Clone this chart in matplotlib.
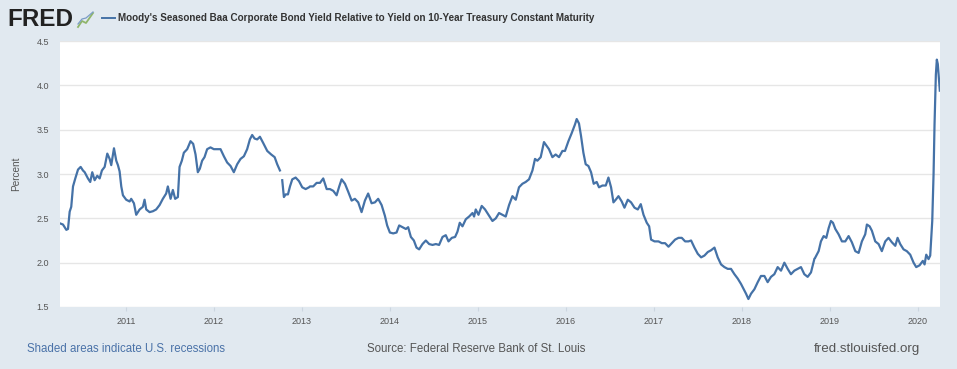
import matplotlib
matplotlib.use("Agg")
import matplotlib.pyplot as plt
from matplotlib.lines import Line2D
import numpy as np
from datetime import datetime, timedelta

plt.rcParams['font.family'] = ['Liberation Sans', 'DejaVu Sans']

NAN = float('nan')  # breaks in the published series

# decimal-year time stamps
t_year = [
    2010.258, 2010.284, 2010.322, 2010.341, 2010.36, 2010.378, 2010.398, 2010.424, 2010.455, 2010.485,
    2010.511, 2010.531, 2010.568, 2010.594, 2010.617, 2010.644, 2010.674, 2010.701, 2010.727, 2010.758,
    2010.788, 2010.815, 2010.833, 2010.864, 2010.89, 2010.909, 2010.928, 2010.947, 2010.966, 2011.003,
    2011.042, 2011.06, 2011.091, 2011.117, 2011.156, 2011.193, 2011.212, 2011.231, 2011.269, 2011.307,
    2011.344, 2011.383, 2011.42, 2011.458, 2011.477, 2011.508, 2011.534, 2011.56, 2011.591, 2011.61,
    2011.636, 2011.659, 2011.697, 2011.735, 2011.765, 2011.792, 2011.818, 2011.841, 2011.867, 2011.894,
    2011.924, 2011.962, 2012.0, 2012.038, 2012.076, 2012.114, 2012.151, 2012.19, 2012.227, 2012.265,
    2012.303, 2012.341, 2012.378, 2012.409, 2012.435, 2012.462, 2012.492, 2012.523, 2012.56, 2012.606,
    2012.651, 2012.69, 2012.719, 2012.75, 2012.77, 2012.776, 2012.795, 2012.815, 2012.841, 2012.864, 2012.89,
    2012.928, 2012.966, 2013.003, 2013.042, 2013.08, 2013.091, 2013.128, 2013.167, 2013.205, 2013.242,
    2013.281, 2013.318, 2013.356, 2013.394, 2013.424, 2013.451, 2013.489, 2013.526, 2013.565, 2013.602,
    2013.64, 2013.678, 2013.716, 2013.753, 2013.792, 2013.83, 2013.867, 2013.906, 2013.943, 2013.969,
    2014.0, 2014.038, 2014.076, 2014.106, 2014.144, 2014.182, 2014.208, 2014.239, 2014.273, 2014.303,
    2014.333, 2014.371, 2014.409, 2014.447, 2014.485, 2014.523, 2014.56, 2014.599, 2014.636, 2014.667,
    2014.705, 2014.742, 2014.769, 2014.795, 2014.826, 2014.864, 2014.901, 2014.94, 2014.958, 2014.977,
    2015.008, 2015.045, 2015.083, 2015.122, 2015.167, 2015.205, 2015.242, 2015.281, 2015.318, 2015.356,
    2015.394, 2015.432, 2015.469, 2015.508, 2015.545, 2015.583, 2015.622, 2015.651, 2015.678, 2015.716,
    2015.753, 2015.781, 2015.81, 2015.849, 2015.886, 2015.924, 2015.963, 2015.992, 2016.031, 2016.068,
    2016.106, 2016.125, 2016.151, 2016.174, 2016.201, 2016.227, 2016.258, 2016.288, 2016.318, 2016.352,
    2016.378, 2016.417, 2016.455, 2016.485, 2016.515, 2016.542, 2016.568, 2016.599, 2016.636, 2016.667,
    2016.705, 2016.742, 2016.781, 2016.818, 2016.852, 2016.883, 2016.92, 2016.947, 2016.969, 2017.008,
    2017.053, 2017.091, 2017.128, 2017.167, 2017.205, 2017.242, 2017.281, 2017.318, 2017.356, 2017.394,
    2017.424, 2017.462, 2017.5, 2017.538, 2017.576, 2017.614, 2017.651, 2017.69, 2017.727, 2017.765,
    2017.803, 2017.841, 2017.878, 2017.917, 2017.955, 2017.992, 2018.023, 2018.049, 2018.076, 2018.106,
    2018.144, 2018.182, 2018.219, 2018.258, 2018.295, 2018.333, 2018.371, 2018.409, 2018.447, 2018.485,
    2018.523, 2018.56, 2018.599, 2018.636, 2018.674, 2018.712, 2018.75, 2018.788, 2018.826, 2018.832, 2018.838,
    2018.875, 2018.901, 2018.932, 2018.962, 2018.989, 2019.015, 2019.038, 2019.065, 2019.102, 2019.14,
    2019.178, 2019.216, 2019.253, 2019.292, 2019.33, 2019.367, 2019.405, 2019.424, 2019.455, 2019.481,
    2019.519, 2019.557, 2019.594, 2019.633, 2019.67, 2019.708, 2019.747, 2019.773, 2019.803, 2019.841,
    2019.878, 2019.917, 2019.955, 2019.985, 2020.023, 2020.06, 2020.08, 2020.099, 2020.125, 2020.144,
    2020.167, 2020.182, 2020.193, 2020.208, 2020.219, 2020.23, 2020.242, 2020.253,
]

# Baa - 10Y spread, percent
spread = [
    2.44, 2.43, 2.37, 2.38, 2.575, 2.63, 2.86, 2.95, 3.05, 3.08,
    3.04, 3.02, 2.95, 2.91, 3.02, 2.93, 2.98, 2.95, 3.04, 3.08,
    3.23, 3.17, 3.10, 3.29, 3.15, 3.10, 3.03, 2.86, 2.76, 2.71,
    2.69, 2.72, 2.67, 2.54, 2.60, 2.63, 2.71, 2.60, 2.57, 2.58,
    2.60, 2.65, 2.72, 2.78, 2.86, 2.72, 2.82, 2.72, 2.74, 3.08,
    3.15, 3.24, 3.28, 3.37, 3.34, 3.22, 3.02, 3.06, 3.15, 3.19,
    3.28, 3.30, 3.28, 3.28, 3.28, 3.20, 3.13, 3.09, 3.02, 3.11,
    3.17, 3.20, 3.28, 3.39, 3.44, 3.40, 3.39, 3.42, 3.35, 3.26,
    3.22, 3.19, 3.11, 3.04, NAN, 2.93, 2.74, 2.77, 2.77, 2.86, 2.94,
    2.96, 2.92, 2.85, 2.83, 2.85, 2.86, 2.86, 2.90, 2.90, 2.95,
    2.83, 2.83, 2.81, 2.76, 2.86, 2.94, 2.89, 2.80, 2.70, 2.72,
    2.68, 2.57, 2.70, 2.78, 2.67, 2.68, 2.72, 2.65, 2.53, 2.42,
    2.34, 2.33, 2.34, 2.42, 2.40, 2.38, 2.40, 2.29, 2.25, 2.17,
    2.15, 2.21, 2.25, 2.21, 2.20, 2.21, 2.20, 2.29, 2.31, 2.24,
    2.28, 2.29, 2.35, 2.45, 2.41, 2.49, 2.52, 2.56, 2.52, 2.60,
    2.54, 2.64, 2.60, 2.54, 2.47, 2.50, 2.56, 2.54, 2.52, 2.65,
    2.75, 2.71, 2.85, 2.89, 2.91, 2.94, 3.04, 3.17, 3.15, 3.19,
    3.36, 3.32, 3.28, 3.19, 3.22, 3.19, 3.26, 3.26, 3.37, 3.46,
    3.56, 3.62, 3.57, 3.43, 3.24, 3.11, 3.09, 3.02, 2.89, 2.91,
    2.85, 2.87, 2.87, 2.96, 2.85, 2.68, 2.71, 2.75, 2.69, 2.62,
    2.71, 2.68, 2.62, 2.60, 2.66, 2.54, 2.45, 2.41, 2.26, 2.24,
    2.24, 2.22, 2.22, 2.18, 2.22, 2.26, 2.28, 2.28, 2.24, 2.24,
    2.25, 2.17, 2.10, 2.06, 2.08, 2.12, 2.14, 2.17, 2.06, 1.98,
    1.95, 1.93, 1.93, 1.87, 1.82, 1.76, 1.70, 1.65, 1.59, 1.65,
    1.70, 1.78, 1.85, 1.85, 1.78, 1.84, 1.87, 1.95, 1.91, 2.00,
    1.93, 1.87, 1.91, 1.93, 1.95, 1.87, 1.84, 1.89, 2.04, NAN, 2.06,
    2.13, 2.24, 2.30, 2.28, 2.39, 2.47, 2.45, 2.38, 2.32, 2.24,
    2.24, 2.30, 2.23, 2.13, 2.11, 2.24, 2.32, 2.43, 2.41, 2.36,
    2.24, 2.21, 2.13, 2.24, 2.28, 2.23, 2.19, 2.28, 2.21, 2.15,
    2.13, 2.09, 2.00, 1.95, 1.97, 2.02, 1.98, 2.09, 2.04, 2.08,
    2.47, 3.00, 3.56, 4.12, 4.29, 4.24, 4.09, 3.94,
]

year_ticks = [2011, 2012, 2013, 2014, 2015, 2016, 2017, 2018, 2019, 2020]
y_ticks = [1.5, 2.0, 2.5, 3.0, 3.5, 4.0, 4.5]

title = "Moody's Seasoned Baa Corporate Bond Yield Relative to Yield on 10-Year Treasury Constant Maturity"


def to_date(y):
    yi = int(np.floor(y))
    start = datetime(yi, 1, 1)
    days = (datetime(yi + 1, 1, 1) - start).days
    return start + timedelta(days=(y - yi) * days)


dates = [to_date(y) for y in t_year]

BG = '#e1e9f0'
W, H = 957, 369
fig = plt.figure(figsize=(W / 100, H / 100), dpi=100, facecolor=BG)
ax = fig.add_axes([60 / W, 1 - 307 / H, 880 / W, 266 / H])
ax.set_facecolor('white')

ax.plot(dates, spread, color='#4572a7', lw=1.6, solid_joinstyle='round')

ax.set_ylim(1.5, 4.5)
ax.set_xlim(to_date(2010.25), to_date(2020.255))
ax.set_yticks(y_ticks)
ax.set_yticklabels([f"{v:.1f}" for v in y_ticks])
ax.set_xticks([datetime(y, 1, 1) for y in year_ticks])
ax.set_xticklabels([str(y) for y in year_ticks])
ax.grid(axis='y', color='#e6e6e6', lw=1)
ax.set_axisbelow(True)
for s in ax.spines.values():
    s.set_visible(False)
ax.tick_params(axis='y', length=0, labelsize=6.5, labelcolor='#555555', pad=8)
ax.tick_params(axis='x', length=3, color='#ccd6e0', labelsize=6.5, labelcolor='#555555', pad=4)
ax.set_ylabel('Percent', fontsize=7.2, color='#555555', labelpad=11)

# header
fig.text(7 / W, 1 - 20 / H, 'FRED', fontsize=17.5, fontweight='bold', color='#222222',
         va='center', ha='left')
# small logo icon
fig.add_artist(Line2D(np.array([78, 82, 86, 93]) / W, 1 - np.array([27, 21, 23, 13]) / H,
                      color='#8fb56a', lw=1.3))
fig.add_artist(Line2D(np.array([78, 82, 86, 93]) / W, 1 - np.array([24, 19, 18, 12]) / H,
                      color='#7a9cc6', lw=0.9))
fig.add_artist(Line2D([102 / W, 115 / W], [1 - 18 / H, 1 - 18 / H], color='#4572a7', lw=1.4))
fig.text(118 / W, 1 - 18 / H, title, fontsize=7.1, fontweight='bold', color='#333333',
         va='center', ha='left')

# footer
fig.text(27 / W, 1 - 349 / H, 'Shaded areas indicate U.S. recessions', fontsize=8.3,
         color='#4a72a8', va='center', ha='left')
fig.text(476 / W, 1 - 349 / H, 'Source: Federal Reserve Bank of St. Louis', fontsize=8.3,
         color='#555555', va='center', ha='center')
fig.text(920 / W, 1 - 349 / H, 'fred.stlouisfed.org', fontsize=9.6,
         color='#555555', va='center', ha='right')

fig.savefig('out.png', dpi=100, facecolor=BG)
